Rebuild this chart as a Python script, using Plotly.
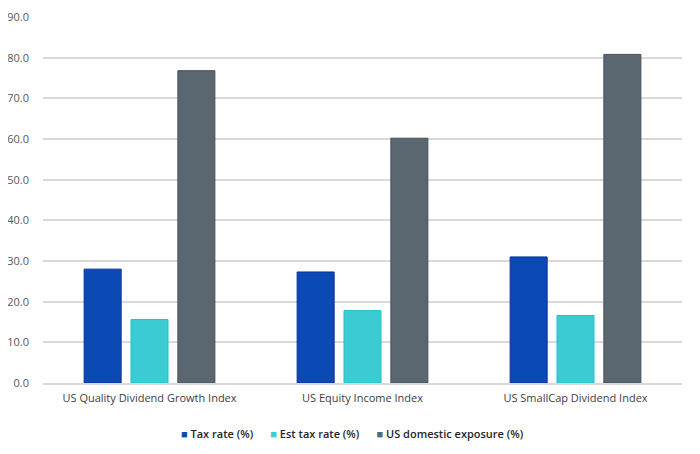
import plotly.graph_objects as go

categories = ["US Quality Dividend Growth Index", "US Equity Income Index", "US SmallCap Dividend Index"]
tax_rate = [28.0, 27.3, 31.0]
est_tax_rate = [15.6, 17.8, 16.6]
us_domestic = [76.8, 60.2, 80.8]
series_names = ["Tax rate (%)", "Est tax rate (%)", "US domestic exposure (%)"]
series_colors = ["#0B4AB5", "#3BCCD3", "#5A6670"]
series_lines = ["#0A2E9E", "#22C2CA", "#46525C"]
y_ticks = [0, 10, 20, 30, 40, 50, 60, 70, 80, 90]

fig = go.Figure()
for vals, name, col, lc in zip([tax_rate, est_tax_rate, us_domestic], series_names, series_colors, series_lines):
    fig.add_trace(go.Bar(x=categories, y=vals, name=name,
                         marker=dict(color=col, line=dict(color=lc, width=1))))

M_L, M_R, M_T, M_B = 35, 26, 9, 79
plot_w = 700 - M_L - M_R
plot_h = 454 - M_T - M_B
legend_text = "      ".join(
    f"<span style='color:{c}'>■</span> {n}" for n, c in zip(series_names, series_colors)
)
fig.add_annotation(text=legend_text, x=(344.5 - M_L) / plot_w, xref="paper", xanchor="center",
                   y=(454 - M_B - 425) / plot_h, yref="paper", yanchor="middle", showarrow=False,
                   font=dict(family="Open Sans", size=11, color="#262626", weight=600))

fig.update_layout(
    width=700, height=454,
    margin=dict(l=M_L, r=M_R, t=M_T, b=M_B, autoexpand=False),
    paper_bgcolor="white", plot_bgcolor="white",
    barmode="group", bargap=0.34, bargroupgap=0.21,
    font=dict(family="Open Sans", size=11, color="#404040"),
    showlegend=False,
)
fig.update_yaxes(range=[0, 90], tickvals=y_ticks, ticktext=[f"{v:.1f}" for v in y_ticks],
                 showgrid=True, gridcolor="#D9D9D9", gridwidth=1.5, zeroline=False,
                 showline=False, ticks="", tickfont=dict(size=11, color="#595959"),
                 ticklabelstandoff=13, automargin=False)
fig.update_xaxes(showline=True, linecolor="#D9D9D9", linewidth=1.5, ticks="",
                 tickfont=dict(size=11, color="#404040"), ticklabelstandoff=4,
                 automargin=False)

fig.write_html("out.html")
